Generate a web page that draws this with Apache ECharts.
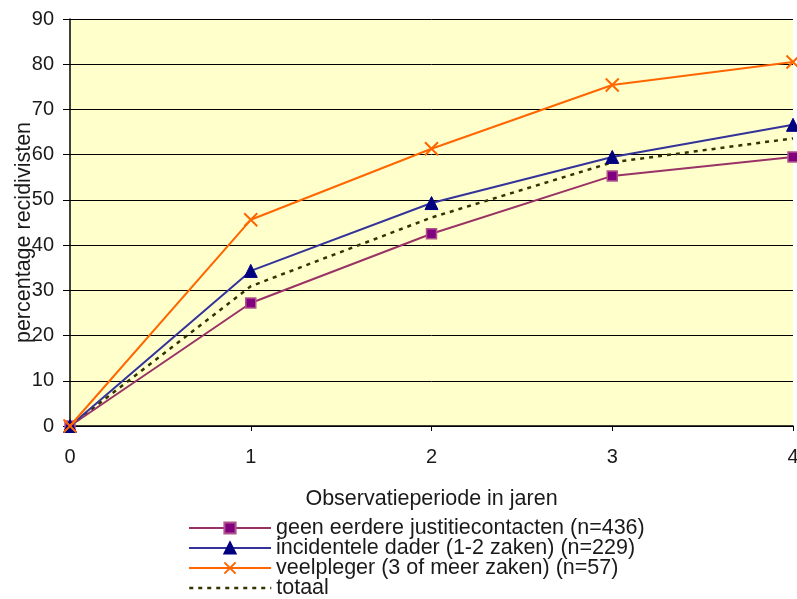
<!DOCTYPE html>
<html>
<head>
<meta charset="utf-8">
<script src="https://cdn.jsdelivr.net/npm/echarts@6/dist/echarts.min.js"></script>
<style>html,body{margin:0;padding:0;background:#fff}#c{width:797px;height:599px}</style>
</head>
<body>
<div id="c"></div>
<script>
const years = [0, 1, 2, 3, 4];
const geen = [0, 27.2, 42.5, 55.3, 59.5];
const incidenteel = [0, 34.3, 49.3, 59.5, 66.6];
const veelpleger = [0, 45.6, 61.3, 75.4, 80.5];
const totaal = [0, 30.9, 46.1, 58.3, 63.6];
const seriesNames = [
  'geen eerdere justitiecontacten (n=436)',
  'incidentele dader (1-2 zaken) (n=229)',
  'veelpleger (3 of meer zaken) (n=57)',
  'totaal'
];
const xTitle = 'Observatieperiode in jaren';
const yTitle = 'percentage recidivisten';

const FONT = 'Liberation Sans';
const TXT = '#1a1a1a';
const pts = arr => years.map((x, i) => [x, arr[i]]);

const legends = seriesNames.map((name, i) => ({
  orient: 'horizontal', left: 188, bottom: (3 - i) * 20, padding: 0,
  itemWidth: 82, itemHeight: 14, itemGap: 0,
  textStyle: {fontFamily: FONT, fontSize: 21.5, lineHeight: 20, color: TXT},
  data: [i === 3
    ? {name: name,
       itemStyle: {color: 'rgba(0,0,0,0)', borderColor: 'rgba(0,0,0,0)', borderWidth: 0},
       lineStyle: {color: '#333300', width: 2.5, type: [4, 5], opacity: 1}}
    : {name: name}]
}));

const chart = echarts.init(document.getElementById('c'), null, {renderer: 'canvas'});
chart.setOption({
  animation: false,
  backgroundColor: '#ffffff',
  textStyle: {fontFamily: FONT},
  grid: {left: 70, right: 4, top: 19, bottom: 173, show: true, backgroundColor: '#FFFFCC', borderWidth: 0,
         containLabel: false, outerBoundsMode: 'none'},
  xAxis: {
    type: 'value', min: 0, max: 4, interval: 1,
    name: xTitle, nameLocation: 'middle', nameGap: 62, nameMoveOverlap: false,
    nameTextStyle: {fontFamily: FONT, fontSize: 21.5, color: TXT},
    axisLine: {show: true, onZero: false, lineStyle: {color: '#000', width: 1.5}},
    axisTick: {show: true, inside: false, length: 5, lineStyle: {color: '#000'}},
    axisLabel: {fontFamily: FONT, fontSize: 20, color: TXT, margin: 21},
    splitLine: {show: false}
  },
  yAxis: {
    type: 'value', min: 0, max: 90, interval: 10,
    name: yTitle, nameLocation: 'middle', nameGap: 35, nameRotate: 90, nameMoveOverlap: false,
    nameTextStyle: {fontFamily: FONT, fontSize: 21.5, color: TXT, padding: [0, 20, 0, 0]},
    axisLine: {show: true, lineStyle: {color: '#000', width: 1.5}},
    axisTick: {show: true, inside: false, length: 7, lineStyle: {color: '#000'}},
    axisLabel: {fontFamily: FONT, fontSize: 20, color: TXT, margin: 16},
    splitLine: {show: true, lineStyle: {color: '#000', width: 1}}
  },
  legend: legends,
  series: [
    {
      name: seriesNames[0], type: 'line', data: pts(geen),
      symbol: 'rect', symbolSize: 10,
      lineStyle: {color: '#993366', width: 2},
      itemStyle: {color: '#800080', borderColor: '#B0558A', borderWidth: 1.5},
      z: 3
    },
    {
      name: seriesNames[1], type: 'line', data: pts(incidenteel),
      symbol: 'triangle', symbolSize: 13,
      lineStyle: {color: '#333399', width: 2},
      itemStyle: {color: '#000080', borderColor: '#000080', borderWidth: 1},
      z: 4
    },
    {
      name: seriesNames[2], type: 'line', data: pts(veelpleger),
      symbol: 'path://M0,0L10,10M10,0L0,10', symbolSize: 13,
      lineStyle: {color: '#FF6600', width: 2},
      itemStyle: {color: 'rgba(0,0,0,0)', borderColor: '#FF6600', borderWidth: 2},
      z: 5
    },
    {
      name: seriesNames[3], type: 'line', data: pts(totaal),
      symbol: 'none',
      lineStyle: {color: '#333300', width: 2.5, type: [4, 5]},
      itemStyle: {color: '#333300'},
      z: 2
    }
  ]
});
</script>
</body>
</html>
